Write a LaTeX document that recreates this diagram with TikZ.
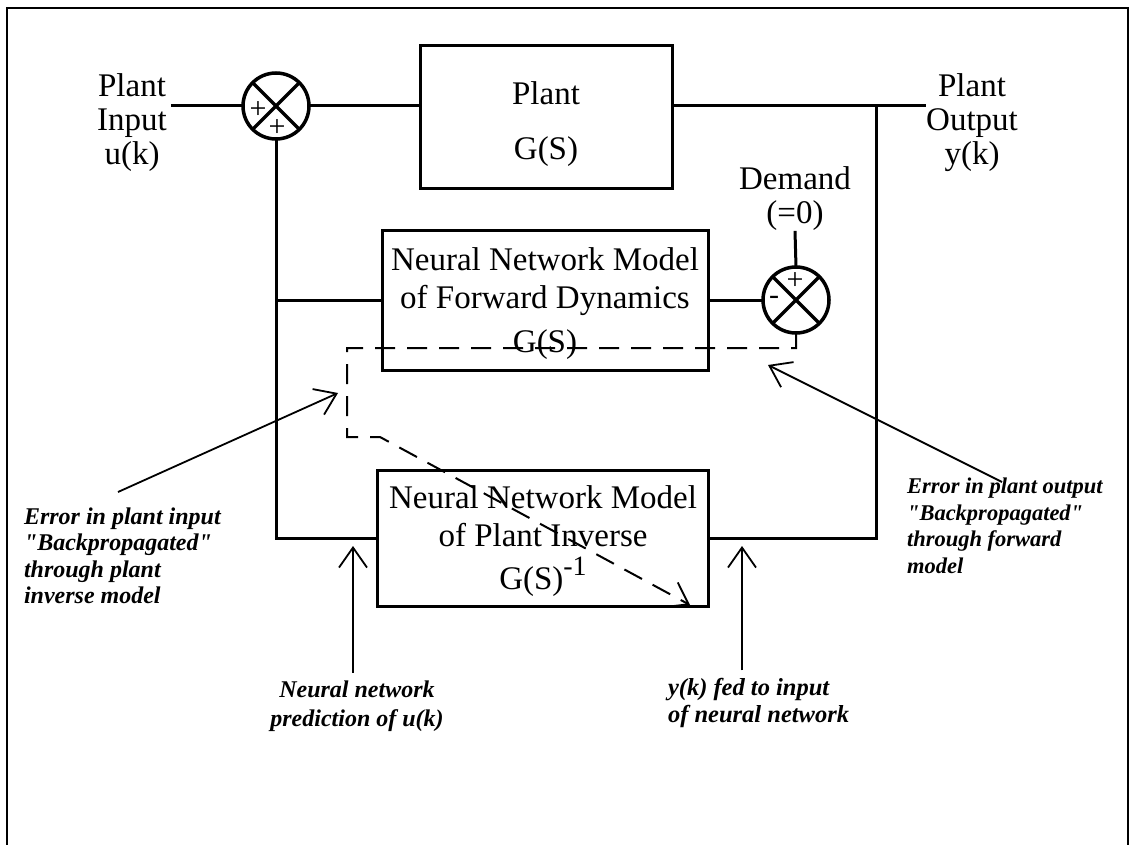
\documentclass[tikz,border=0pt]{standalone}
\usepackage{fontspec}
\setmainfont{Liberation Serif}
\newfontfamily\notefont{Liberation Serif}[Ligatures=TeXOff]
\usetikzlibrary{arrows.meta,calc}
\begin{document}
\begin{tikzpicture}[x=1pt,y=-1pt,
  every node/.style={inner sep=0pt, outer sep=0pt},
  blk/.style={draw, line width=3pt, align=center, font=\fontsize{33}{38}\selectfont},
  lbl/.style={align=center, font=\fontsize{33}{34}\selectfont},
  note/.style={align=left, font=\fontsize{24}{26.5}\selectfont\notefont\bfseries\itshape},
  sumj/.style={draw, circle, line width=3.5pt, minimum size=66pt},
  wire/.style={line width=3pt},
  arr/.style={line width=1.8pt, -{Straight Barb[length=20pt,width=28pt,line width=1.8pt]}},
  dsh/.style={line width=2pt, dash pattern=on 20pt off 12pt},
  sgn/.style={font=\fontsize{30}{30}\selectfont}
]
\useasboundingbox (0,0) rectangle (1129,845);
% frame
\draw[line width=2.5pt] (7,850) -- (7,8) -- (1128,8) -- (1128,850);

% nodes
\node[lbl] (inlbl) at (132,123) {Plant\\Input\\u(k)};
\node[sumj] (s1) at (276,106) {};
\node[blk, minimum width=252pt, minimum height=143pt, font=\fontsize{33}{55}\selectfont] (plant) at (546,117) {\rule{0pt}{38pt}Plant\\G(S)};
\node[lbl] (outlbl) at (972,123) {Plant\\Output\\y(k)};
\node[lbl] (dem) at (795,199) {Demand\\(=0)};
\node[sumj] (s2) at (796,300) {};
\node[blk, minimum width=326pt, minimum height=140pt] (fwd) at (545,300) {\rule{0pt}{30pt}Neural Network Model\\of Forward Dynamics\\[6pt]G(S)};
\node[blk, minimum width=331pt, minimum height=136pt] (inv) at (543,538) {\rule{0pt}{30pt}Neural Network Model\\of Plant Inverse\\[5pt]G(S)\raisebox{14pt}{\fontsize{28}{28}\selectfont -1}};

% signs in summing junctions
\draw[line width=3.5pt] (s1.45) -- (s1.225) (s1.135) -- (s1.315);
\draw[line width=3.5pt] (s2.45) -- (s2.225) (s2.135) -- (s2.315);
\node[sgn] (p1) at ($(s1)+(-18,4)$) {+};
\node[sgn] (p2) at ($(s1)+(1,22)$) {+};
\node[sgn] (p3) at ($(s2)+(-1,-19)$) {+};
\node[sgn] (m1) at ($(s2)+(-22,0)$) {-};

% notes
\node[note, anchor=west] (errin) at (24,556) {Error in plant input\\"Backpropagated"\\through plant\\inverse model};
\node[note, anchor=west, font=\fontsize{22.5}{26.5}\selectfont\notefont\bfseries\itshape] (errout) at (907,526) {Error in plant output\\"Backpropagated"\\through forward\\model};
\node[note, align=center, font=\fontsize{24}{29}\selectfont\notefont\bfseries\itshape] (nnpred) at (357,706) {Neural network\\prediction of u(k)};
\node[note, anchor=west, font=\fontsize{24.5}{27}\selectfont\notefont\bfseries\itshape] (yfed) at (668,703) {y(k) fed to input\\of neural network};

% wires
\coordinate (inend) at ($(inlbl.east)+(4,0)$);
\coordinate (rj) at (876,106);
\draw[wire] (inend |- s1.west) -- (s1.west);
\draw[wire] (s1.east) -- (s1.east -| plant.west);
\draw[wire] (s1.east -| plant.east) -- (s1.east -| outlbl.west);
\draw[wire] (rj) -- (rj |- inv.east) -- (inv.east);
\draw[wire] (s1.south) -- (s1.south |- inv.west) -- (inv.west);
\draw[wire] (s1.south |- fwd.west) -- (fwd.west);
\draw[wire] (fwd.east) -- (s2.west);
\draw[wire] (dem.south) -- (s2.north);

% dashed backpropagation path
\coordinate (d1) at (347,348);
\coordinate (d2) at (347,437);
\coordinate (d3) at (380,437);
\coordinate (d4) at (690,605);
\draw[dsh, -{Straight Barb[length=20pt,width=28pt,line width=1.8pt]}] (s2.south) |- (d1) -- (d2) -- (d3) -- (d4);

% annotation arrows
\coordinate (a1s) at (118,492);
\coordinate (a1e) at (338,393);
\draw[arr] (a1s) -- (a1e);
\coordinate (a2s) at (1002,482);
\coordinate (a2e) at (768,365);
\draw[arr] (a2s) -- (a2e);
\coordinate (t1) at (353,546);
\draw[arr] ($(t1 |- nnpred.north)+(0,-8)$) -- (t1);
\coordinate (t2) at (742,546);
\draw[arr] ($(t2 |- yfed.north)+(0,-8)$) -- (t2);
\end{tikzpicture}
\end{document}
